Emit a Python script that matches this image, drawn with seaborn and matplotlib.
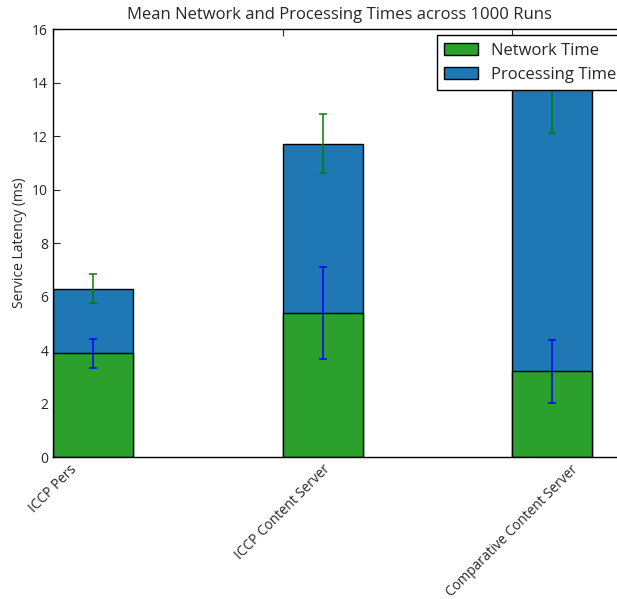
import matplotlib
matplotlib.use("Agg")
import matplotlib.pyplot as plt
from matplotlib.patches import Patch
import numpy as np
import pandas as pd
import seaborn as sns

# Mean latencies (ms) and their spreads for each service configuration
services = ["ICCP Pers", "ICCP Content Server", "Comparative Content Server"]
network_time = [3.88, 5.38, 3.21]
processing_time = [2.42, 6.34, 10.64]
network_err = [0.55, 1.73, 1.18]
processing_err = [0.55, 1.10, 1.75]

total_time = [n + p for n, p in zip(network_time, processing_time)]
df = pd.DataFrame({"service": services,
                   "network": network_time,
                   "total": total_time})

sns.set_style("white")
plt.rcParams["font.family"] = ["Open Sans", "DejaVu Sans"]
plt.rcParams.update({
    "xtick.direction": "in", "ytick.direction": "in",
    "xtick.top": True, "ytick.right": True,
    "xtick.bottom": True, "ytick.left": True,
    "xtick.major.size": 5, "ytick.major.size": 5,
    "axes.edgecolor": "black", "axes.linewidth": 1.0,
})

fig = plt.figure(figsize=(6.17, 5.99), dpi=100)
ax = fig.add_axes([0.0859, 0.237, 0.93, 0.7145])

bar_w = 0.35
green = "#2ca02c"
blue = "#1f77b4"

# Stacked bars: the full height in blue, network share in green over it
sns.barplot(data=df, x="service", y="total", color=blue, width=bar_w,
            saturation=1, edgecolor="black", linewidth=1.0, ax=ax,
            errorbar=None)
sns.barplot(data=df, x="service", y="network", color=green, width=bar_w,
            saturation=1, edgecolor="black", linewidth=1.0, ax=ax,
            errorbar=None)

n = len(services)
lefts = [p.get_x() for p in ax.patches[:n]]
centers = [p.get_x() + p.get_width() / 2 for p in ax.patches[:n]]

ax.errorbar(centers, network_time, yerr=network_err, fmt="none",
            ecolor="b", elinewidth=1.1, capsize=3, capthick=1.1)
ax.errorbar(centers, total_time, yerr=processing_err, fmt="none",
            ecolor="g", elinewidth=1.1, capsize=3, capthick=1.1)

ax.set_xticks(lefts)
ax.set_xticklabels(services, rotation=45, ha="center", fontsize=9.8)
ax.set_xlim(lefts[0], lefts[0] + 2.5)
ax.set_ylim(0, 16)
ax.set_yticks(np.arange(0, 17, 2))
ax.tick_params(axis="y", labelsize=10)
ax.set_xlabel("")
ax.set_ylabel("Service Latency (ms)", fontsize=10)
ax.set_title("Mean Network and Processing Times across 1000 Runs",
             fontsize=12, pad=7)

handles = [Patch(facecolor=green, edgecolor="black", label="Network Time"),
           Patch(facecolor=blue, edgecolor="black", label="Processing Time")]
leg = ax.legend(handles=handles, loc="upper left",
                bbox_to_anchor=(0.669, 0.986), borderaxespad=0,
                fontsize=12, frameon=True, fancybox=False,
                edgecolor="black", framealpha=1, borderpad=0.45)
leg.get_frame().set_linewidth(1.0)

fig.savefig("out.png", dpi=100)
